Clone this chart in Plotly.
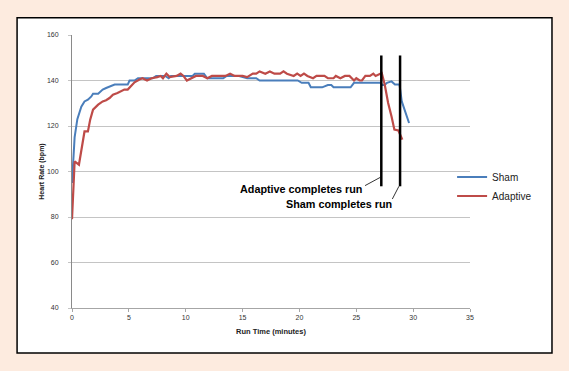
import plotly.graph_objects as go

# ---- data ----
sham_t = [0, 0.1, 0.23, 0.47, 0.82, 1.1, 1.4, 1.7, 1.85, 2.3, 2.7, 3.0, 3.45, 3.75, 4.9,
          5.06, 5.5, 5.8, 7.1, 7.4, 8.2, 8.5, 8.7, 10.6, 10.8, 11.6, 11.9, 13.3, 13.6, 14.7,
          15.4, 16.2, 16.5, 19.85, 20.2, 20.8, 21.0, 22.0, 22.5, 22.8, 23.0, 24.5, 24.8, 27.1,
          27.3, 27.5, 27.7, 28.1, 28.4, 28.8, 29.0, 29.3, 29.64]
sham_hr = [95, 102, 115, 123, 128.5, 130.8, 131.6, 133, 134.2, 134.2, 136, 136.7, 137.4, 138.2, 138.2,
           140, 140, 141, 141, 142, 142, 141, 142, 142, 143, 143, 141, 141, 142, 142,
           141, 141, 140, 140, 139, 139, 137, 137, 138, 138, 137, 137, 139, 139,
           138, 138, 139, 139.6, 138.2, 138.2, 130.8, 126.4, 121.3]

adapt_t = [0, 0.23, 0.61, 0.9, 1.1, 1.4, 1.6, 1.85, 2.3, 2.7, 3.0, 3.3, 3.6, 4.0, 4.3,
           4.6, 4.9, 5.2, 5.5, 5.97, 6.2, 6.6, 7.0, 7.5, 7.8, 8.0, 8.3, 8.6, 9.0, 9.2,
           9.55, 9.8, 10.1, 10.5, 10.9, 11.5, 11.9, 12.3, 13.5, 13.9, 14.3, 15.0, 15.4, 15.9, 16.2,
           16.5, 17.0, 17.4, 17.8, 18.3, 18.6, 18.9, 19.5, 19.8, 20.1, 20.4, 20.7, 21.2, 21.5, 22.2,
           22.5, 23.0, 23.2, 23.6, 24.0, 24.4, 24.8, 25.0, 25.3, 25.5, 25.8, 26.2, 26.5, 26.7, 27.1,
           27.24, 27.5, 27.8, 28.1, 28.35, 28.7, 29.05]
adapt_hr = [79, 104.4, 103, 111, 117.6, 117.6, 122.8, 127.2, 129.4, 130.8, 131.3, 132.3, 133.8, 134.5, 135.2,
            136, 136, 137.4, 139.2, 140.5, 141, 140, 141, 141.5, 142, 141, 143, 141.5, 142, 142,
            143, 142, 140, 141, 142, 142, 141, 142, 142, 143, 142, 142, 141.5, 143, 143,
            144, 143, 144, 143, 143, 144, 143, 142, 143, 142, 143, 142, 141, 142, 142,
            141, 141, 142, 141, 142, 142, 140, 141, 140, 140, 142, 142, 143, 142, 143,
            143.3, 138.2, 130.1, 124.2, 118.4, 118, 114]

series_names = ["Sham", "Adaptive"]
event_labels = ["Adaptive completes run", "Sham completes run"]
event_times = [27.2, 28.85]          # minutes at which each run completes
event_span = [93.5, 151]            # vertical extent of the marker lines (bpm)

x_ticks = [0, 5, 10, 15, 20, 25, 30, 35]
y_ticks = [40, 60, 80, 100, 120, 140, 160]

BLUE = "#4A7EBB"
RED = "#BE4B48"
PEACH = "#FDEBDF"
FONT = "Liberation Sans, Arial, sans-serif"

fig = go.Figure()
fig.add_trace(go.Scatter(x=sham_t, y=sham_hr, mode="lines", name=series_names[0],
                         line=dict(color=BLUE, width=2)))
fig.add_trace(go.Scatter(x=adapt_t, y=adapt_hr, mode="lines", name=series_names[1],
                         line=dict(color=RED, width=2.2)))

shapes = []
# white framed box
shapes.append(dict(type="rect", xref="paper", yref="paper", x0=-0.138, x1=1.206,
                   y0=-0.165, y1=1.063, line=dict(color="black", width=1.5),
                   fillcolor="white", layer="below"))
# darker 60 gridline
shapes.append(dict(type="line", xref="paper", yref="y", x0=0, x1=1, y0=60, y1=60,
                   line=dict(color="#8a8a8a", width=1.2), layer="below"))
# event marker lines
for t in event_times:
    shapes.append(dict(type="line", xref="x", yref="y", x0=t, x1=t,
                       y0=event_span[0], y1=event_span[1],
                       line=dict(color="black", width=2.5)))
# leader lines
shapes.append(dict(type="line", xref="x", yref="y", x0=25.77, y0=93.8, x1=27.1, y1=97.4,
                   line=dict(color="black", width=0.8)))
shapes.append(dict(type="line", xref="x", yref="y", x0=28.17, y0=87.9, x1=28.75, y1=93.5,
                   line=dict(color="black", width=0.8)))

annotations = [
    dict(x=20.17, y=92.3, xref="x", yref="y", text=event_labels[0], showarrow=False,
         xanchor="center", yanchor="middle",
         font=dict(family=FONT, size=10.8, color="black", weight="bold")),
    dict(x=23.48, y=85.85, xref="x", yref="y", text=event_labels[1], showarrow=False,
         xanchor="center", yanchor="middle",
         font=dict(family=FONT, size=10.8, color="black", weight="bold")),
]

fig.update_layout(
    width=569, height=371,
    margin=dict(l=72, r=99, t=35, b=63),
    paper_bgcolor=PEACH,
    plot_bgcolor="white",
    shapes=shapes,
    annotations=annotations,
    font=dict(family=FONT, color="#333333"),
    legend=dict(x=0.955, xanchor="left", y=0.445, yanchor="middle",
                bgcolor="rgba(0,0,0,0)", font=dict(size=10, color="#222222"),
                itemwidth=30, tracegroupgap=0),
    showlegend=True,
)
fig.update_xaxes(range=[0, 35], tickvals=x_ticks, showgrid=False, zeroline=False,
                 showline=True, linecolor="#a6a6a6", linewidth=1,
                 ticks="outside", ticklen=3, tickcolor="#a6a6a6",
                 tickfont=dict(size=7, color="#333333"),
                 title=dict(text="Run Time (minutes)", standoff=8,
                            font=dict(size=7.5, color="#222222", weight="bold")))
fig.update_yaxes(range=[40, 160], tickvals=y_ticks, showgrid=True, gridcolor="#c4c4c4",
                 gridwidth=1, zeroline=False, showline=True, linecolor="#8a8a8a",
                 linewidth=1, ticks="outside", ticklen=3, tickcolor="#c4c4c4",
                 ticklabelstandoff=8,
                 tickfont=dict(size=7, color="#333333"),
                 title=dict(text="Heart Rate (bpm)", standoff=1,
                            font=dict(size=7, color="#222222", weight="bold")))

fig.write_html("out.html",
               config={"displayModeBar": False},
               post_script="document.body.style.margin='0';"
                           "document.body.style.background='" + PEACH + "';")
